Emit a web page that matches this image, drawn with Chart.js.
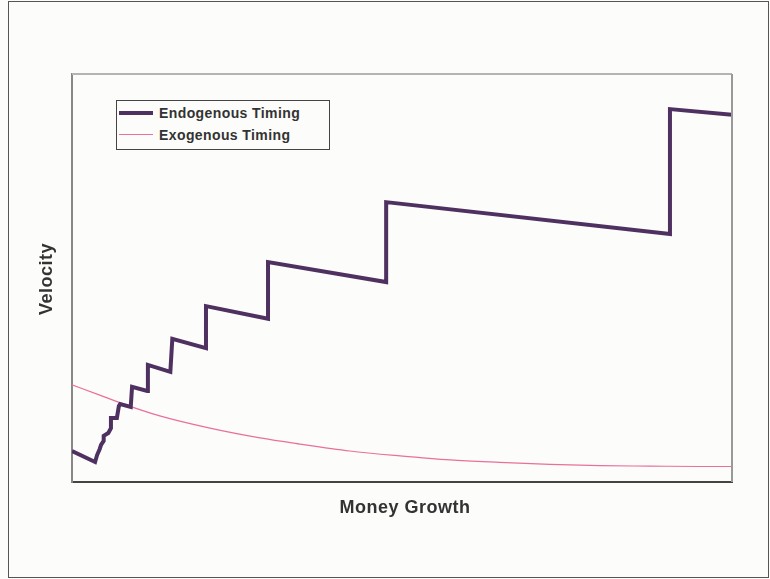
<!DOCTYPE html>
<html>
<head>
<meta charset="utf-8">
<script src="https://cdn.jsdelivr.net/npm/chart.js@4/dist/chart.umd.min.js"></script>
<style>
  html, body { margin: 0; padding: 0; background: #fcfcfa; }
  #wrap { position: relative; width: 770px; height: 579px; }
  #legend {
    position: absolute; left: 116px; top: 100px; width: 212px; height: 48px;
    border: 1px solid #444; background: #fcfcfa;
    font: bold 14px "Liberation Sans", Arial, sans-serif; color: #333; letter-spacing: 0.4px;
  }
  #legend .row { position: absolute; left: 0; height: 20px; line-height: 20px; }
  #legend .swatch { position: absolute; left: 2px; width: 34px; }
  #legend .txt { position: absolute; left: 42px; white-space: nowrap; }
</style>
</head>
<body>
<div id="wrap">
  <canvas id="chart" width="770" height="579"></canvas>
  <div id="legend"></div>
</div>
<script>
// Endogenous timing: stepped path (x = money growth, y = velocity, 0..100 scale)
var endoX = [0, 3.5, 3.8, 4.2, 4.4, 4.8, 4.8, 5.5, 5.9, 5.9, 6.8, 7.1, 7.3, 8.9, 9.1, 11.4, 11.5, 14.9, 15.2, 20.3, 20.3, 29.7, 29.7, 47.6, 47.6, 90.6, 90.6, 100];
var endoY = [7.6, 4.9, 6.6, 8.1, 9.1, 10.1, 11.3, 12.0, 13.2, 15.7, 15.7, 18.6, 19.1, 18.4, 23.3, 22.3, 28.7, 27.0, 35.1, 32.8, 43.1, 40.0, 53.9, 49.0, 68.6, 60.8, 91.4, 90.0];

// Exogenous timing: smooth decline
var exoX = [0, 4.2, 7.3, 13.3, 20.9, 28.5, 34.5, 42.1, 49.7, 57.3, 64.8, 72.4, 80.0, 87.6, 95.2, 100];
var exoY = [23.8, 21.3, 19.4, 16.2, 13.2, 10.8, 9.3, 7.6, 6.4, 5.4, 4.8, 4.3, 4.0, 3.9, 3.8, 3.8];

var seriesNames = ["Endogenous Timing", "Exogenous Timing"];
var xTitle = "Money Growth";
var yTitle = "Velocity";

function pts(xs, ys) {
  return xs.map(function (x, i) { return { x: x, y: ys[i] }; });
}

var FONT = '"Liberation Sans", Arial, sans-serif';

var framePlugin = {
  id: "frame",
  beforeDraw: function (chart) {
    var c = chart.ctx;
    c.save();
    c.fillStyle = "#fcfcfa";
    c.fillRect(0, 0, chart.width, chart.height);
    c.strokeStyle = "#555";
    c.lineWidth = 1;
    c.strokeRect(8.5, 1.5, 760, 576);
    c.restore();
  },
  afterDraw: function (chart) {
    var a = chart.chartArea;
    var c = chart.ctx;
    c.save();
    c.lineWidth = 2;
    c.strokeStyle = "#b4b4b4";
    c.beginPath();
    c.moveTo(a.left, a.top);
    c.lineTo(a.right, a.top);
    c.stroke();
    c.strokeStyle = "#999";
    c.beginPath();
    c.moveTo(a.right, a.top);
    c.lineTo(a.right, a.bottom);
    c.stroke();

    c.fillStyle = "#333";
    c.font = "bold 18px " + FONT;
    if ("letterSpacing" in c) c.letterSpacing = "0.5px";
    c.textAlign = "center";
    c.textBaseline = "middle";
    c.fillText(xTitle, 405, 508);
    c.translate(47, 279);
    c.rotate(-Math.PI / 2);
    c.fillText(yTitle, 0, 0);
    c.restore();
  }
};

var chart = new Chart(document.getElementById("chart").getContext("2d"), {
  type: "line",
  data: {
    datasets: [
      {
        label: seriesNames[0],
        data: pts(endoX, endoY),
        borderColor: "#4e3160",
        borderWidth: 4,
        pointRadius: 0,
        tension: 0,
        borderJoinStyle: "miter"
      },
      {
        label: seriesNames[1],
        data: pts(exoX, exoY),
        borderColor: "#e8709a",
        borderWidth: 1.2,
        pointRadius: 0,
        cubicInterpolationMode: "monotone"
      }
    ]
  },
  options: {
    responsive: false,
    animation: false,
    devicePixelRatio: 1,
    layout: { padding: { top: 74, right: 38, left: 0, bottom: 0 } },
    scales: {
      x: {
        type: "linear", min: 0, max: 100,
        ticks: { display: false },
        grid: { display: false, drawTicks: false },
        border: { color: "#444", width: 2 },
        afterFit: function (s) { s.height = 97; }
      },
      y: {
        type: "linear", min: 0, max: 100,
        ticks: { display: false },
        grid: { display: false, drawTicks: false },
        border: { color: "#888", width: 2 },
        afterFit: function (s) { s.width = 72; }
      }
    },
    plugins: {
      legend: { display: false },
      tooltip: { enabled: false }
    }
  },
  plugins: [framePlugin]
});

// HTML legend built from the datasets
var legend = document.getElementById("legend");
chart.data.datasets.forEach(function (ds, i) {
  var row = document.createElement("div");
  row.className = "row";
  row.style.top = (i * 22 + 2) + "px";
  var sw = document.createElement("div");
  sw.className = "swatch";
  sw.style.top = (10 - Math.ceil(ds.borderWidth / 2)) + "px";
  sw.style.height = Math.max(1, Math.round(ds.borderWidth)) + "px";
  sw.style.background = ds.borderColor;
  var t = document.createElement("span");
  t.className = "txt";
  t.textContent = ds.label;
  row.appendChild(sw);
  row.appendChild(t);
  legend.appendChild(row);
});
</script>
</body>
</html>
